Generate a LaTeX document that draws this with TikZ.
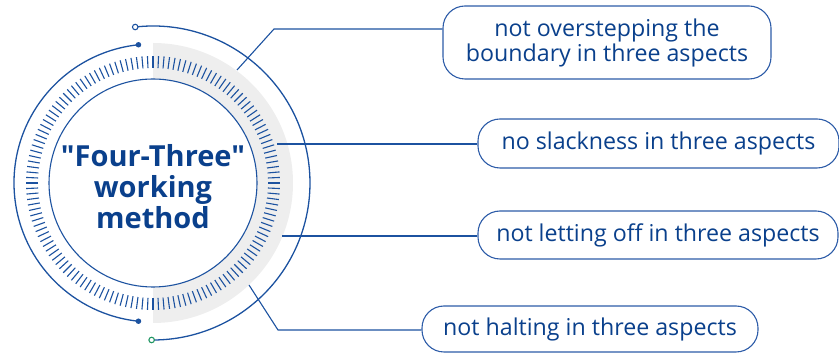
\documentclass[tikz,border=0pt]{standalone}
\usepackage{fontspec}
\setmainfont{Open Sans}
\newfontfamily\titlefont{Open Sans}[Ligatures=TeXOff]
\definecolor{navy}{RGB}{10,64,140}
\definecolor{linec}{RGB}{28,82,160}
\definecolor{boxc}{RGB}{45,92,168}
\definecolor{ringgray}{RGB}{238,238,238}
\definecolor{greenc}{RGB}{34,150,100}
\begin{document}
\begin{tikzpicture}[x=1pt,y=1pt,
  conn/.style={draw=linec,line width=1.1pt},
  tickmark/.style={draw=linec,line width=1.1pt},
  item/.style={draw=boxc,line width=1.1pt,rounded corners=22pt,fill=white,
    text=navy,font=\fontsize{23.2}{25}\selectfont,align=center,inner sep=0pt},
  dot/.style={circle,fill=linec,inner sep=0pt,minimum size=5.5pt},
  odot/.style={circle,draw=linec,fill=white,line width=1.1pt,inner sep=0pt,minimum size=5.5pt}]
\useasboundingbox (0,0) rectangle (839,353);
\coordinate (C) at (153,170);
% gray half ring
\fill[ringgray] ([shift={(-90:104)}]C) arc[start angle=-90,end angle=90,radius=104]
  -- ([shift={(90:140)}]C) arc[start angle=90,end angle=-90,radius=140] -- cycle;
% ticks
\foreach \a in {0,2.5,...,357.5}
  \draw[tickmark] ([shift={(\a:115)}]C) -- ([shift={(\a:127)}]C);
% inner circle
\draw[linec,line width=1.1pt] (C) circle[radius=104];
% middle arc with dots
\coordinate (m1) at ([shift={(96:139)}]C);
\coordinate (m2) at ([shift={(264:139)}]C);
\draw[linec,line width=1.3pt] (m1) arc[start angle=96,end angle=264,radius=139];
\node[dot] (d1) at (m1) {};
\node[dot] (d2) at (m2) {};
% outer arc
\coordinate (o1) at ([shift={(96.5:157)}]C);
\coordinate (o2) at ([shift={(-90.5:157)}]C);
\draw[linec,line width=1.3pt] (o1) arc[start angle=96.5,end angle=-90.5,radius=157];
\node[odot] (e1) at (o1) {};
\node[odot,draw=greenc] (e2) at (o2) {};
% title
\node[text=navy,font=\titlefont\bfseries\fontsize{29}{31}\selectfont,align=center] (title) at (153,166)
  {"Four-Three"\\working\\method};
% boxes
\node[item,minimum width=328pt,minimum height=73pt] (b1) at (607,310.5)
  {not overstepping the\\boundary in three aspects};
\node[item,minimum width=361pt,minimum height=49pt] (b2) at (658.5,209.5)
  {no slackness in three aspects};
\node[item,minimum width=360pt,minimum height=48pt] (b3) at (658,118)
  {not letting off in three aspects};
\node[item,minimum width=336pt,minimum height=46pt] (b4) at (590,24)
  {not halting in three aspects};
% connectors
\coordinate (s1) at (237,283);
\coordinate (k1) at (274,324);
\coordinate (s2) at (277,209);
\coordinate (s3) at (282,117);
\coordinate (s4) at (249,68);
\coordinate (k4) at (278,23);
\draw[conn] (s1) -- (k1) -- (b1.west |- k1);
\draw[conn] (s2) -- (b2.west |- s2);
\draw[conn] (s3) -- (b3.west |- s3);
\draw[conn] (s4) -- (k4) -- (b4.west |- k4);
\end{tikzpicture}
\end{document}
